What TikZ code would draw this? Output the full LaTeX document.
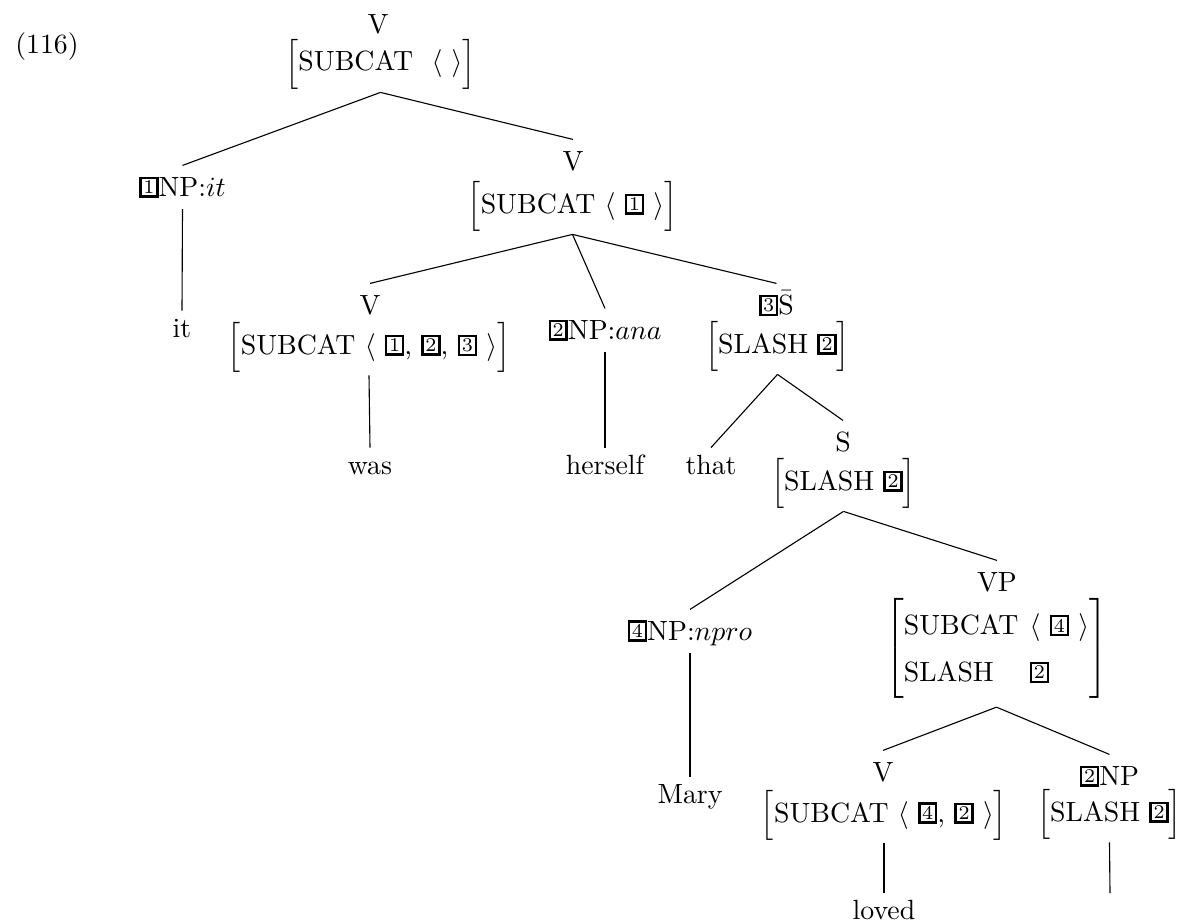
\documentclass[tikz,border=0pt]{standalone}

% boxed tag (structure-sharing index)
\newcommand{\bx}[1]{\raisebox{0.8pt}{\setlength{\fboxsep}{0.6pt}\setlength{\fboxrule}{0.9pt}\fbox{\scriptsize #1}}}
% one-line attribute-value matrix
\newcommand{\avmline}[1]{$\Bigl[$#1$\Bigr]$}

\begin{document}
\begin{tikzpicture}[x=0.3597pt, y=-0.3597pt,
  lab/.style={anchor=base, inner xsep=1pt, inner ysep=3.8pt, text height=7pt, text depth=0.7pt},
  avm/.style={anchor=base, inner xsep=0pt, inner ysep=1pt},
  avmtwo/.style={anchor=center, inner xsep=0pt, inner ysep=2.9pt},
  leaf/.style={anchor=base, inner xsep=1pt, inner ysep=2.3pt, text height=7pt},
  edge/.style={draw=black, line width=0.4pt}]
\useasboundingbox (0,0) rectangle (1178,922);

\node[anchor=base] (num) at (47,53) {(116)};

% root
\node[lab] (rootV) at (378,34) {V};
\node[avm] (rootA) at (380.5,71) {\avmline{SUBCAT\ \ $\langle$\ $\rangle$}};

% subject
\node[lab] (npit) at (182.5,196) {\bx{1}NP:$it$};
\node[leaf] (it) at (182,337) {it};

% head-complement phrase
\node[lab] (v2) at (573,170) {V};
\node[avm] (v2A) at (572.5,213) {\avmline{SUBCAT\ $\langle$\ \bx{1}\ $\rangle$}};

\node[lab] (v3) at (370,314) {V};
\node[avm] (v3A) at (369,354) {\avmline{SUBCAT\ $\langle$\ \bx{1},\ \bx{2},\ \bx{3}\ $\rangle$}};
\node[leaf] (was) at (370,474) {was};

\node[lab] (npana) at (605,339) {\bx{2}NP:$ana$};
\node[leaf] (herself) at (605,474) {herself};

\node[lab] (sbar) at (776.5,314) {\bx{3}$\bar{\mbox{S}}$};
\node[avm] (sbarA) at (777.5,353) {\avmline{SLASH\ \bx{2}}};
\node[leaf] (that) at (711,474) {that};

% embedded clause
\node[lab] (s) at (843,451) {S};
\node[avm] (sA) at (843.5,490) {\avmline{SLASH\ \bx{2}}};

\node[lab] (npnpro) at (690,640) {\bx{4}NP:$npro$};
\node[leaf] (mary) at (690,803) {Mary};

\node[lab] (vp) at (997,591) {VP};
\node[avmtwo] (vpA) at (996.5,648.5) {\renewcommand{\arraystretch}{1.4}%
  $\left[\begin{tabular}{@{}l@{\hspace{4pt}}l@{}}
    SUBCAT & $\langle$\ \bx{4}\ $\rangle$\\
    SLASH & \bx{2}
  \end{tabular}\right]$};

\node[lab] (vloved) at (883,781) {V};
\node[avm] (vlovedA) at (884,822) {\avmline{SUBCAT\ $\langle$\ \bx{4},\ \bx{2}\ $\rangle$}};
\node[leaf] (loved) at (884,919) {loved};

\node[lab] (np2) at (1109.5,785) {\bx{2}NP};
\node[avm] (np2A) at (1109.5,821) {\avmline{SLASH\ \bx{2}}};
\coordinate (np2end) at (1110,893);

% branches
\draw[edge] (rootA.south) -- (npit.north);
\draw[edge] (rootA.south) -- (v2.north);
\draw[edge] (npit.south) -- (it.north);
\draw[edge] (v2A.south) -- (v3.north);
\draw[edge] (v2A.south) -- (npana.north);
\draw[edge] (v2A.south) -- (sbar.north);
\draw[edge] (v3A.south) -- (was.north);
\draw[edge] (npana.south) -- (herself.north);
\draw[edge] (sbarA.south) -- (that.north);
\draw[edge] (sbarA.south) -- (s.north);
\draw[edge] (sA.south) -- (npnpro.north);
\draw[edge] (sA.south) -- (vp.north);
\draw[edge] (npnpro.south) -- (mary.north);
\draw[edge] (vpA.south) -- (vloved.north);
\draw[edge] (vpA.south) -- (np2.north);
\draw[edge] (vlovedA.south) -- (loved.north);
\draw[edge] (np2A.south) -- (np2end);
\end{tikzpicture}
\end{document}
